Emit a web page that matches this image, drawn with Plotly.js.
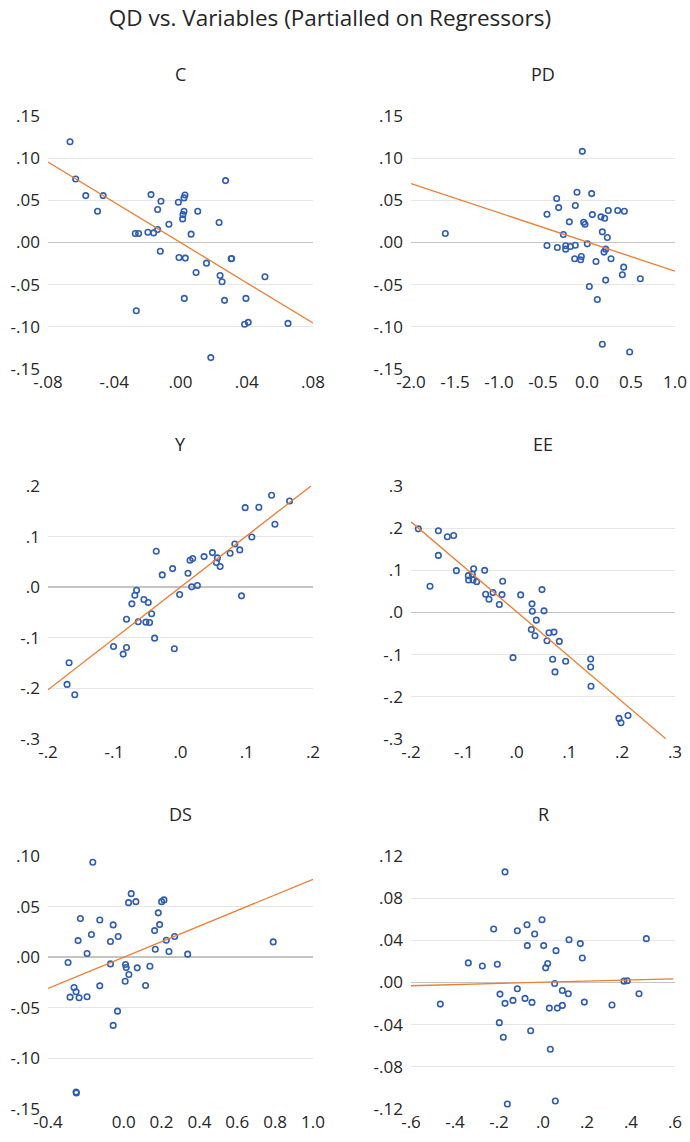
<!DOCTYPE html>
<html>
<head>
<meta charset="utf-8">
<script src="https://cdn.plot.ly/plotly-3.0.1.min.js"></script>
<style>html,body{margin:0;padding:0;background:#fff}#chart{width:690px;height:1142px}</style>
</head>
<body>
<div id="chart"></div>
<script>
// ---------- DATA ----------
const panelNames = ["C", "PD", "Y", "EE", "DS", "R"];

const cX = [-0.0667,-0.0633,-0.0572,-0.0467,-0.0501,-0.0273,-0.0253,-0.0267,-0.0178,-0.0197,-0.0162,-0.0138,-0.0138,-0.0118,-0.0122,-0.0070,-0.0013,-0.0009,0.0013,0.0015,0.0021,0.0021,0.0027,0.0029,0.0023,0.0064,0.0104,0.0094,0.0157,0.0183,0.0233,0.0239,0.0251,0.0266,0.0272,0.0306,0.0309,0.0395,0.0387,0.0409,0.0510,0.0649];
const cY = [0.1195,0.0753,0.0556,0.0556,0.0371,0.0107,0.0107,-0.0809,0.0568,0.0122,0.0114,0.0154,0.0391,0.0489,-0.0103,0.0217,0.0477,-0.0178,0.0280,0.0331,0.0371,0.0529,0.0564,-0.0185,-0.0663,0.0099,0.0371,-0.0355,-0.0245,-0.1365,0.0237,-0.0391,-0.0465,-0.0686,0.0734,-0.0193,-0.0189,-0.0663,-0.0970,-0.0947,-0.0406,-0.0959];
const cFitX = [-0.08, 0.08];
const cFitY = [0.0955, -0.0955];

const pdX = [-1.610,-0.4545,-0.4545,-0.3447,-0.3220,-0.3371,-0.2689,-0.2424,-0.2424,-0.2007,-0.1894,-0.1401,-0.1326,-0.1326,-0.1136,-0.0530,-0.0644,-0.0720,-0.0379,-0.0227,0.0038,0.0530,0.0606,0.0265,0.1023,0.1174,0.1591,0.1742,0.1742,0.2008,0.2121,0.1932,0.2121,0.2311,0.2424,0.2727,0.3485,0.4242,0.4167,0.4015,0.4848,0.6061];
const pdY = [0.0107,0.0335,-0.0036,0.0521,0.0414,-0.0059,0.0095,-0.0039,-0.0079,0.0245,-0.0047,-0.0193,-0.0032,0.0438,0.0596,0.1081,-0.0166,-0.0205,0.0241,0.0217,-0.0016,0.0580,0.0331,-0.0521,-0.0225,-0.0675,0.0304,0.0126,-0.1207,0.0288,-0.0079,-0.0114,-0.0446,0.0059,0.0379,-0.0193,0.0379,0.0371,-0.0292,-0.0383,-0.1298,-0.0430];
const pdFitX = [-2.0, 1.0];
const pdFitY = [0.0698, -0.0339];

const yX = [-0.1682,-0.1712,-0.1596,-0.1011,-0.0865,-0.0815,-0.0815,-0.0734,-0.0689,-0.0663,-0.0638,-0.0552,-0.0487,-0.0522,-0.0467,-0.0436,-0.0391,-0.0366,-0.0275,-0.0119,-0.0093,-0.0013,0.0113,0.0144,0.0184,0.0169,0.0255,0.0356,0.0482,0.0542,0.0557,0.0598,0.0749,0.0820,0.0895,0.0921,0.0976,0.1077,0.1183,0.1375,0.1425,0.1647];
const yY = [-0.1493,-0.1921,-0.2125,-0.1171,-0.1322,-0.1191,-0.0632,-0.0329,-0.0158,-0.0059,-0.0684,-0.0243,-0.0303,-0.0691,-0.0697,-0.0526,-0.1007,0.0711,0.0243,0.0368,-0.1217,-0.0145,0.0276,0.0533,0.0566,0.0007,0.0033,0.0605,0.0684,0.0487,0.0579,0.0408,0.0671,0.0855,0.0737,-0.0171,0.1572,0.0993,0.1579,0.1816,0.1243,0.1704];
const yFitX = [-0.2, 0.197];
const yFitY = [-0.2026, 0.2];

const eeX = [-0.1861,-0.1640,-0.1482,-0.1482,-0.1312,-0.1192,-0.1141,-0.0914,-0.0908,-0.0838,-0.0826,-0.0813,-0.0756,-0.0605,-0.0586,-0.0523,-0.0447,-0.0327,-0.0277,-0.0264,-0.0068,0.0077,0.0279,0.0292,0.0298,0.0348,0.0374,0.0481,0.0519,0.0576,0.0614,0.0708,0.0683,0.0727,0.0809,0.0929,0.1403,0.1403,0.1409,0.1939,0.1977,0.2110];
const eeY = [0.1984,0.0622,0.1937,0.1354,0.1795,0.1827,0.0992,0.0874,0.0772,0.0906,0.0772,0.1039,0.0732,0.1000,0.0433,0.0315,0.0472,0.0189,0.0425,0.0740,-0.1071,0.0417,-0.0402,0.0205,0.0031,-0.0551,-0.0181,0.0543,0.0039,-0.0669,-0.0480,-0.0465,-0.1110,-0.1409,-0.0685,-0.1157,-0.1102,-0.1291,-0.1748,-0.2512,-0.2614,-0.2441];
const eeFitX = [-0.2, 0.2823];
const eeFitY = [0.215, -0.2992];

const dsX = [-0.2941,-0.2835,-0.2623,-0.2517,-0.2358,-0.2517,-0.2500,-0.2411,-0.2288,-0.1934,-0.1934,-0.1705,-0.1634,-0.1264,-0.1264,-0.0699,-0.0699,-0.0557,-0.0557,-0.0328,-0.0293,0.0078,0.0096,0.0131,0.0255,0.0272,0.0396,0.0643,0.0714,0.1155,0.1385,0.1632,0.1667,0.1826,0.1896,0.2002,0.2126,0.2249,0.2391,0.2691,0.3379,0.7899];
const dsY = [-0.0053,-0.0395,-0.0299,-0.0342,-0.0401,-0.1332,-0.1342,0.0164,0.0382,0.0036,-0.0391,0.0224,0.0938,0.0368,-0.0283,0.0155,-0.0066,0.0319,-0.0674,-0.0533,0.0204,-0.0237,-0.0072,-0.0102,0.0539,-0.0171,0.0628,0.0549,-0.0105,-0.0280,-0.0089,0.0263,0.0079,0.0438,0.0322,0.0549,0.0566,0.0168,0.0056,0.0204,0.0030,0.0151];
const dsFitX = [-0.4, 1.0];
const dsFitY = [-0.0309, 0.0770];

const rX = [-0.4667,-0.3394,-0.2758,-0.2242,-0.2076,-0.1955,-0.1985,-0.1803,-0.1727,-0.1727,-0.1621,-0.1364,-0.1167,-0.1167,-0.0818,-0.0727,-0.0712,-0.0561,-0.0500,-0.0379,-0.0045,0.0030,0.0121,0.0212,0.0288,0.0333,0.0530,0.0561,0.0591,0.0652,0.0879,0.0879,0.1152,0.1182,0.1697,0.1788,0.1879,0.3136,0.3682,0.3833,0.4364,0.4697];
const rY = [-0.0205,0.0186,0.0157,0.0507,0.0173,-0.0110,-0.0381,-0.0520,0.1049,-0.0198,-0.1153,-0.0170,0.0491,-0.0060,-0.0151,0.0548,0.0350,-0.0457,-0.0189,0.0460,0.0595,0.0350,0.0139,0.0180,-0.0243,-0.0633,-0.0009,-0.1124,0.0302,-0.0243,-0.0076,-0.0217,-0.0107,0.0406,0.0369,0.0233,-0.0186,-0.0214,0.0013,0.0016,-0.0107,0.0416];
const rFitX = [-0.6, 0.5925];
const rFitY = [-0.0031, 0.0035];

// tick values / labels
const cTickX = [-0.08, -0.04, 0.00, 0.04, 0.08];
const cTickXText = ["-.08", "-.04", ".00", ".04", ".08"];
const cTickY = [-0.15, -0.10, -0.05, 0.00, 0.05, 0.10, 0.15];
const cTickYText = ["-.15", "-.10", "-.05", ".00", ".05", ".10", ".15"];

const pdTickX = [-2.0, -1.5, -1.0, -0.5, 0.0, 0.5, 1.0];
const pdTickXText = ["-2.0", "-1.5", "-1.0", "-0.5", "0.0", "0.5", "1.0"];
const pdTickY = cTickY;
const pdTickYText = cTickYText;

const yTickX = [-0.2, -0.1, 0.0, 0.1, 0.2];
const yTickXText = ["-.2", "-.1", ".0", ".1", ".2"];
const yTickY = [-0.3, -0.2, -0.1, 0.0, 0.1, 0.2];
const yTickYText = ["-.3", "-.2", "-.1", ".0", ".1", ".2"];

const eeTickX = [-0.2, -0.1, 0.0, 0.1, 0.2, 0.3];
const eeTickXText = ["-.2", "-.1", ".0", ".1", ".2", ".3"];
const eeTickY = [-0.3, -0.2, -0.1, 0.0, 0.1, 0.2, 0.3];
const eeTickYText = ["-.3", "-.2", "-.1", ".0", ".1", ".2", ".3"];

const dsTickX = [-0.4, 0.0, 0.2, 0.4, 0.6, 0.8, 1.0];
const dsTickXText = ["-0.4", "0.0", "0.2", "0.4", "0.6", "0.8", "1.0"];
const dsTickY = [-0.15, -0.10, -0.05, 0.00, 0.05, 0.10];
const dsTickYText = ["-.15", "-.10", "-.05", ".00", ".05", ".10"];

const rTickX = [-0.6, -0.4, -0.2, 0.0, 0.2, 0.4, 0.6];
const rTickXText = ["-.6", "-.4", "-.2", ".0", ".2", ".4", ".6"];
const rTickY = [-0.12, -0.08, -0.04, 0.00, 0.04, 0.08, 0.12];
const rTickYText = ["-.12", "-.08", "-.04", ".00", ".04", ".08", ".12"];

// ---------- BUILD ----------
const panels = [
  {x: cX, y: cY, fx: cFitX, fy: cFitY, tx: cTickX, txt: cTickXText, ty: cTickY, tyt: cTickYText},
  {x: pdX, y: pdY, fx: pdFitX, fy: pdFitY, tx: pdTickX, txt: pdTickXText, ty: pdTickY, tyt: pdTickYText},
  {x: yX, y: yY, fx: yFitX, fy: yFitY, tx: yTickX, txt: yTickXText, ty: yTickY, tyt: yTickYText},
  {x: eeX, y: eeY, fx: eeFitX, fy: eeFitY, tx: eeTickX, txt: eeTickXText, ty: eeTickY, tyt: eeTickYText},
  {x: dsX, y: dsY, fx: dsFitX, fy: dsFitY, tx: dsTickX, txt: dsTickXText, ty: dsTickY, tyt: dsTickYText},
  {x: rX, y: rY, fx: rFitX, fy: rFitY, tx: rTickX, txt: rTickXText, ty: rTickY, tyt: rTickYText}
];

const W = 690, H = 1142;
const colX = [[48, 313], [411, 675]];
const rowY = [[116, 369], [486, 739], [856, 1109]];
const FONT = "'Open Sans', 'Noto Sans', sans-serif";
const TXT = "#262626";

const traces = [];
const layout = {
  width: W, height: H,
  margin: {l: 0, r: 0, t: 0, b: 0},
  paper_bgcolor: "#ffffff",
  plot_bgcolor: "#ffffff",
  showlegend: false,
  font: {family: FONT, size: 16, color: TXT},
  title: {text: "QD vs. Variables (Partialled on Regressors)", x: 330 / W, xanchor: "center", y: 1 - 18 / H, yanchor: "middle", font: {family: FONT, size: 22.5, color: TXT}},
  annotations: []
};

panels.forEach((p, i) => {
  const r = Math.floor(i / 2), c = i % 2;
  const xa = "x" + (i === 0 ? "" : i + 1), ya = "y" + (i === 0 ? "" : i + 1);
  const xk = "xaxis" + (i === 0 ? "" : i + 1), yk = "yaxis" + (i === 0 ? "" : i + 1);
  traces.push({
    type: "scatter", mode: "markers", x: p.x, y: p.y, xaxis: xa, yaxis: ya,
    marker: {symbol: "circle-open", size: 5.5, color: "#2F5EB0", line: {width: 1.6, color: "#2F5EB0"}},
    cliponaxis: false, hoverinfo: "skip"
  });
  traces.push({
    type: "scatter", mode: "lines", x: p.fx, y: p.fy, xaxis: xa, yaxis: ya,
    line: {color: "#ED7D31", width: 1.3}, hoverinfo: "skip"
  });
  const xr = [p.tx[0], p.tx[p.tx.length - 1]];
  const yr = [p.ty[0], p.ty[p.ty.length - 1]];
  layout[xk] = {
    domain: [colX[c][0] / W, colX[c][1] / W],
    anchor: ya, range: xr,
    tickmode: "array", tickvals: p.tx, ticktext: p.txt,
    showgrid: false, zeroline: false, showline: false, ticks: "",
    ticklabelstandoff: 1,
    tickfont: {family: FONT, size: 17, color: TXT}
  };
  layout[yk] = {
    domain: [1 - rowY[r][1] / H, 1 - rowY[r][0] / H],
    anchor: xa, range: yr,
    tickmode: "array", tickvals: p.ty, ticktext: p.tyt,
    showgrid: false, ticks: "",
    minor: {tickmode: "array", tickvals: p.ty.slice(1, -1), showgrid: true, gridcolor: "#E6E6E6", gridwidth: 1, ticks: ""},
    zeroline: true, zerolinecolor: "#C4C4C4", zerolinewidth: 1.6,
    showline: false,
    ticklabelstandoff: 7,
    tickfont: {family: FONT, size: 17, color: TXT}
  };
  layout.annotations.push({
    text: panelNames[i], showarrow: false,
    xref: "paper", yref: "paper",
    x: (colX[c][0] + colX[c][1]) / 2 / W, y: 1 - (rowY[r][0] - 42) / H,
    xanchor: "center", yanchor: "middle",
    font: {family: FONT, size: 18, color: TXT}
  });
});

Plotly.newPlot("chart", traces, layout, {staticPlot: true, displayModeBar: false});
</script>
</body>
</html>
